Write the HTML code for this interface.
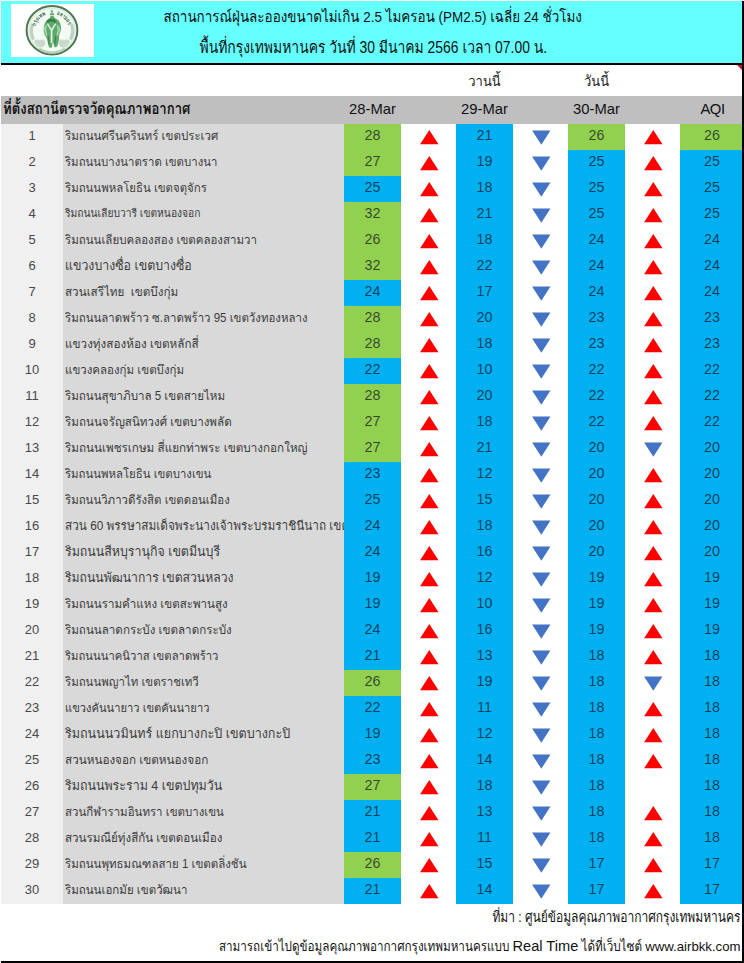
<!DOCTYPE html>
<html lang="th"><head><meta charset="utf-8"><title>PM2.5 กรุงเทพมหานคร</title>
<style>
html,body{margin:0;padding:0;background:#fff}
body{width:744px;height:963px;position:relative;overflow:hidden;font-family:"Liberation Sans","Loma","Noto Sans Thai","Tahoma","Garuda","Noto Sans CJK SC",sans-serif;color:#222}
.a{position:absolute;white-space:nowrap;overflow:hidden}
.t{position:absolute;white-space:pre;line-height:26px;height:26px}
.c{text-align:center}
.n{font-size:13px;color:#484848}
.nm{font-size:11.5px;color:#3c3c3c;letter-spacing:0px}
.nm span{display:inline-block;transform:scaleY(1.07);transform-origin:0 17px}
.v{font-size:14.3px;color:rgba(10,15,30,0.72)}
svg{position:absolute;overflow:visible}
.L{display:inline-block;line-height:1;transform:scaleY(0.86);transform-origin:50% 83%}
</style></head><body>
<div class="a" style="left:1px;top:1px;width:741px;height:62px;background:#66ffff"></div>
<div class="a" style="left:1px;top:63px;width:743px;height:2px;background:#000"></div>
<div class="a" style="left:742px;top:1px;width:2px;height:962px;background:#000"></div>
<div class="a" style="left:1px;top:961px;width:743px;height:2px;background:#000"></div>
<svg style="left:737px;top:65px" width="5" height="5"><polygon points="0,0 5,0 5,5" fill="#c8102e"/></svg>
<div class="a" style="left:11px;top:4px;width:83px;height:53px;background:#fff"></div>
<svg style="left:0;top:0" width="100" height="62" viewBox="0 0 100 62">
<ellipse cx="52" cy="30.2" rx="25.4" ry="24.2" fill="#f3f9f3" stroke="#4a7852" stroke-width="2"/>
<ellipse cx="52" cy="30.2" rx="23.2" ry="22" fill="none" stroke="#dcebdd" stroke-width="1.6"/>
<path d="M32.6 24 A20.2 19.4 0 0 0 33.6 39.5" fill="none" stroke="#c3cfc4" stroke-width="3.2"/>
<path d="M71.4 24 A20.2 19.4 0 0 1 70.4 39.5" fill="none" stroke="#c3cfc4" stroke-width="3.2"/>
<path d="M34 41 q3 -2.5 6 -0.5 q2.5 -2 5 0.5 q1 3 -1 5 q-2 2.5 -5 1 q-3.5 -1 -5 -6z" fill="#c9d9cb"/>
<path d="M70 41 q-3 -2.5 -6 -0.5 q-2.5 -2 -5 0.5 q-1 3 1 5 q2 2.5 5 1 q3.500 -1 5 -6z" fill="#c9d9cb"/>
<path d="M39 48.5 q6 4.200 13 4.200 q7 0 13 -4.200" fill="none" stroke="#b7cdb9" stroke-width="2.2"/>
<path d="M50.400 8.600 l1.100 2.300 l1 -1.700 l0.300 3.200 l1.600 1.800 l-1.200 1.600 l1.700 2.100 q3.600 1.400 5.200 5.200 q1.700 4.500 0.400 9 l-1.600 4 q0.700 3.600 -0.600 6.600 l-1.100 3.600 q-1.500 1.600 -3.200 0.200 l-0.500 -3.600 l-1 0 l-0.600 4.300 q-1.600 1.300 -3.100 -0.100 l-0.900 -4 l-1.200 -5.200 q-2 -2.600 -2.700 -6.200 q-1 -4.600 0.900 -8.600 q1.700 -3.600 4.800 -5 l1.100 -2.300 l-1.100 -1.600 l1.300 -2.200z" fill="#5fa86c"/>
<path d="M46.500 21.500 q1.500 -2.500 4.800 -2.800 q3.600 0.200 5.300 3 l-1.800 1.300 q-1.600 -1.700 -3.500 -1.700 q-2 0 -3.400 1.600z" fill="#2f7d41"/>
<path d="M48 23.200 l3.500 5.800 l3.600 -5.800 l1.200 0.700 l-3.900 6.600 l0.100 12.500 l-1.800 0 l0.100 -12.500 l-4 -6.600z" fill="#e4f3e5"/>
<path d="M44.600 27 q-1.400 4 0.200 8 M59 27 q1.400 4 -0.200 8" fill="none" stroke="#9fd0a6" stroke-width="1.100"/>
<path d="M48.200 36 l0.900 8.500 M55.800 36 l-0.900 8.500" fill="none" stroke="#2f7d41" stroke-width="0.900"/>
<path d="M46.200 25 q-1.600 5 0.600 10.500 M57.600 25 q1.600 5 -0.600 10.500 M49.500 15.500 l4 0 M50 13 l2.500 0" fill="none" stroke="#d9efdc" stroke-width="0.900"/>
<path id="lgarc1" d="M35.600 26.400 A17 16.200 0 0 1 47.400 14.600" fill="none"/>
<path id="lgarc2" d="M56.600 14.600 A17 16.200 0 0 1 68.400 26.400" fill="none"/>
<text font-size="6.2" font-weight="bold" fill="#2a6438" font-family="'Liberation Sans','Loma','Noto Sans Thai',sans-serif"><textPath href="#lgarc1" startOffset="0" textLength="16" lengthAdjust="spacingAndGlyphs">กรุงเทพ</textPath></text>
<text font-size="6.2" font-weight="bold" fill="#2a6438" font-family="'Liberation Sans','Loma','Noto Sans Thai',sans-serif"><textPath href="#lgarc2" startOffset="0" textLength="16" lengthAdjust="spacingAndGlyphs">มหานคร</textPath></text>
</svg>

<div class="t" style="top:5px;font-size:13.46px;color:#111;left:163.5px;transform:scaleY(1.15);transform-origin:50% 70%;">สถานการณ์ฝุ่นละอองขนาดไม่เกิน 2.5 ไมครอน (PM2.5) เฉลี่ย 24 ชั่วโมง</div>
<div class="t" style="top:35px;font-size:13.9px;color:#111;left:199.5px;transform:scaleY(1.2);transform-origin:50% 70%;">พื้นที่กรุงเทพมหานคร วันที่ 30 มีนาคม 2566 เวลา 07.00 น.</div>
<div class="t c" style="top:69px;font-size:13px;color:#222;left:456px;width:57px;transform:scaleY(1.1);transform-origin:50% 70%;">วานนี้</div>
<div class="t c" style="top:69px;font-size:13px;color:#222;left:568px;width:57px;transform:scaleY(1.1);transform-origin:50% 70%;">วันนี้</div>
<div class="a" style="left:1px;top:96px;width:741px;height:28px;background:#bfbfbf"></div>
<div class="t" style="top:97px;font-size:13.17px;color:#111;left:3px;font-weight:bold;transform:scaleY(1.19);transform-origin:50% 70%;">ที่ตั้งสถานีตรวจวัดคุณภาพอากาศ</div>
<div class="t c" style="top:96px;font-size:14.8px;color:#111;left:344px;width:57px;">28-Mar</div>
<div class="t c" style="top:96px;font-size:14.8px;color:#111;left:456px;width:57px;">29-Mar</div>
<div class="t c" style="top:96px;font-size:14.8px;color:#111;left:568px;width:57px;">30-Mar</div>
<div class="t c" style="top:96px;font-size:14.8px;color:#111;left:681.5px;width:62px;letter-spacing:-0.5px;">AQI</div>
<div class="a" style="left:1px;top:124px;width:62px;height:780px;background:#f0f0f0"></div>
<div class="a" style="left:63px;top:124px;width:281px;height:780px;background:#d9d9d9"></div>
<div class="a" style="left:344px;top:124px;width:57px;height:780px;background:#00b0f0"></div>
<div class="a" style="left:456px;top:124px;width:57px;height:780px;background:#00b0f0"></div>
<div class="a" style="left:568px;top:124px;width:57px;height:780px;background:#00b0f0"></div>
<div class="a" style="left:680px;top:124px;width:62px;height:780px;background:#00b0f0"></div>
<div class="a" style="left:344px;top:124px;width:57px;height:26px;background:#92d050"></div>
<div class="a" style="left:568px;top:124px;width:57px;height:26px;background:#92d050"></div>
<div class="a" style="left:680px;top:124px;width:62px;height:26px;background:#92d050"></div>
<div class="a" style="left:344px;top:150px;width:57px;height:26px;background:#92d050"></div>
<div class="a" style="left:344px;top:202px;width:57px;height:26px;background:#92d050"></div>
<div class="a" style="left:344px;top:228px;width:57px;height:26px;background:#92d050"></div>
<div class="a" style="left:344px;top:254px;width:57px;height:26px;background:#92d050"></div>
<div class="a" style="left:344px;top:306px;width:57px;height:26px;background:#92d050"></div>
<div class="a" style="left:344px;top:332px;width:57px;height:26px;background:#92d050"></div>
<div class="a" style="left:344px;top:384px;width:57px;height:26px;background:#92d050"></div>
<div class="a" style="left:344px;top:410px;width:57px;height:26px;background:#92d050"></div>
<div class="a" style="left:344px;top:436px;width:57px;height:26px;background:#92d050"></div>
<div class="a" style="left:344px;top:670px;width:57px;height:26px;background:#92d050"></div>
<div class="a" style="left:344px;top:774px;width:57px;height:26px;background:#92d050"></div>
<div class="a" style="left:344px;top:852px;width:57px;height:26px;background:#92d050"></div>
<div class="t c n" style="left:1px;width:62px;top:123px">1</div>
<div class="t nm" style="left:65px;width:279px;top:123px;overflow:hidden;font-size:11.53px"><span id="nm1">ริมถนนศรีนครินทร์ เขตประเวศ</span></div>
<div class="t c v" style="left:344px;width:57px;top:122px">28</div>
<div class="t c v" style="left:456px;width:57px;top:122px">21</div>
<div class="t c v" style="left:568px;width:57px;top:122px">26</div>
<div class="t c v" style="left:681px;width:62px;top:122px">26</div>
<div class="t c n" style="left:1px;width:62px;top:149px">2</div>
<div class="t nm" style="left:65px;width:279px;top:149px;overflow:hidden;font-size:11.40px"><span id="nm2">ริมถนนบางนาตราด เขตบางนา</span></div>
<div class="t c v" style="left:344px;width:57px;top:148px">27</div>
<div class="t c v" style="left:456px;width:57px;top:148px">19</div>
<div class="t c v" style="left:568px;width:57px;top:148px">25</div>
<div class="t c v" style="left:681px;width:62px;top:148px">25</div>
<div class="t c n" style="left:1px;width:62px;top:175px">3</div>
<div class="t nm" style="left:65px;width:279px;top:175px;overflow:hidden;font-size:11.41px"><span id="nm3">ริมถนนพหลโยธิน เขตจตุจักร</span></div>
<div class="t c v" style="left:344px;width:57px;top:174px">25</div>
<div class="t c v" style="left:456px;width:57px;top:174px">18</div>
<div class="t c v" style="left:568px;width:57px;top:174px">25</div>
<div class="t c v" style="left:681px;width:62px;top:174px">25</div>
<div class="t c n" style="left:1px;width:62px;top:201px">4</div>
<div class="t nm" style="left:65px;width:279px;top:201px;overflow:hidden;font-size:10.29px"><span id="nm4">ริมถนนเลียบวารี เขตหนองจอก</span></div>
<div class="t c v" style="left:344px;width:57px;top:200px">32</div>
<div class="t c v" style="left:456px;width:57px;top:200px">21</div>
<div class="t c v" style="left:568px;width:57px;top:200px">25</div>
<div class="t c v" style="left:681px;width:62px;top:200px">25</div>
<div class="t c n" style="left:1px;width:62px;top:227px">5</div>
<div class="t nm" style="left:65px;width:279px;top:227px;overflow:hidden;font-size:11.51px"><span id="nm5">ริมถนนเลียบคลองสอง เขตคลองสามวา</span></div>
<div class="t c v" style="left:344px;width:57px;top:226px">26</div>
<div class="t c v" style="left:456px;width:57px;top:226px">18</div>
<div class="t c v" style="left:568px;width:57px;top:226px">24</div>
<div class="t c v" style="left:681px;width:62px;top:226px">24</div>
<div class="t c n" style="left:1px;width:62px;top:253px">6</div>
<div class="t nm" style="left:65px;width:279px;top:253px;overflow:hidden;font-size:12.37px"><span id="nm6">แขวงบางซื่อ เขตบางซื่อ</span></div>
<div class="t c v" style="left:344px;width:57px;top:252px">32</div>
<div class="t c v" style="left:456px;width:57px;top:252px">22</div>
<div class="t c v" style="left:568px;width:57px;top:252px">24</div>
<div class="t c v" style="left:681px;width:62px;top:252px">24</div>
<div class="t c n" style="left:1px;width:62px;top:279px">7</div>
<div class="t nm" style="left:65px;width:279px;top:279px;overflow:hidden;font-size:11.67px"><span id="nm7">สวนเสรีไทย  เขตบึงกุ่ม</span></div>
<div class="t c v" style="left:344px;width:57px;top:278px">24</div>
<div class="t c v" style="left:456px;width:57px;top:278px">17</div>
<div class="t c v" style="left:568px;width:57px;top:278px">24</div>
<div class="t c v" style="left:681px;width:62px;top:278px">24</div>
<div class="t c n" style="left:1px;width:62px;top:305px">8</div>
<div class="t nm" style="left:65px;width:279px;top:305px;overflow:hidden;font-size:11.48px"><span id="nm8">ริมถนนลาดพร้าว ซ.ลาดพร้าว 95 เขตวังทองหลาง</span></div>
<div class="t c v" style="left:344px;width:57px;top:304px">28</div>
<div class="t c v" style="left:456px;width:57px;top:304px">20</div>
<div class="t c v" style="left:568px;width:57px;top:304px">23</div>
<div class="t c v" style="left:681px;width:62px;top:304px">23</div>
<div class="t c n" style="left:1px;width:62px;top:331px">9</div>
<div class="t nm" style="left:65px;width:279px;top:331px;overflow:hidden;font-size:11.72px"><span id="nm9">แขวงทุ่งสองห้อง เขตหลักสี่</span></div>
<div class="t c v" style="left:344px;width:57px;top:330px">28</div>
<div class="t c v" style="left:456px;width:57px;top:330px">18</div>
<div class="t c v" style="left:568px;width:57px;top:330px">23</div>
<div class="t c v" style="left:681px;width:62px;top:330px">23</div>
<div class="t c n" style="left:1px;width:62px;top:357px">10</div>
<div class="t nm" style="left:65px;width:279px;top:357px;overflow:hidden;font-size:11.51px"><span id="nm10">แขวงคลองกุ่ม เขตบึงกุ่ม</span></div>
<div class="t c v" style="left:344px;width:57px;top:356px">22</div>
<div class="t c v" style="left:456px;width:57px;top:356px">10</div>
<div class="t c v" style="left:568px;width:57px;top:356px">22</div>
<div class="t c v" style="left:681px;width:62px;top:356px">22</div>
<div class="t c n" style="left:1px;width:62px;top:383px">11</div>
<div class="t nm" style="left:65px;width:279px;top:383px;overflow:hidden;font-size:11.56px"><span id="nm11">ริมถนนสุขาภิบาล 5 เขตสายไหม</span></div>
<div class="t c v" style="left:344px;width:57px;top:382px">28</div>
<div class="t c v" style="left:456px;width:57px;top:382px">20</div>
<div class="t c v" style="left:568px;width:57px;top:382px">22</div>
<div class="t c v" style="left:681px;width:62px;top:382px">22</div>
<div class="t c n" style="left:1px;width:62px;top:409px">12</div>
<div class="t nm" style="left:65px;width:279px;top:409px;overflow:hidden;font-size:11.63px"><span id="nm12">ริมถนนจรัญสนิทวงศ์ เขตบางพลัด</span></div>
<div class="t c v" style="left:344px;width:57px;top:408px">27</div>
<div class="t c v" style="left:456px;width:57px;top:408px">18</div>
<div class="t c v" style="left:568px;width:57px;top:408px">22</div>
<div class="t c v" style="left:681px;width:62px;top:408px">22</div>
<div class="t c n" style="left:1px;width:62px;top:435px">13</div>
<div class="t nm" style="left:65px;width:279px;top:435px;overflow:hidden;font-size:11.68px"><span id="nm13">ริมถนนเพชรเกษม สี่แยกท่าพระ เขตบางกอกใหญ่</span></div>
<div class="t c v" style="left:344px;width:57px;top:434px">27</div>
<div class="t c v" style="left:456px;width:57px;top:434px">21</div>
<div class="t c v" style="left:568px;width:57px;top:434px">20</div>
<div class="t c v" style="left:681px;width:62px;top:434px">20</div>
<div class="t c n" style="left:1px;width:62px;top:461px">14</div>
<div class="t nm" style="left:65px;width:279px;top:461px;overflow:hidden;font-size:11.38px"><span id="nm14">ริมถนนพหลโยธิน เขตบางเขน</span></div>
<div class="t c v" style="left:344px;width:57px;top:460px">23</div>
<div class="t c v" style="left:456px;width:57px;top:460px">12</div>
<div class="t c v" style="left:568px;width:57px;top:460px">20</div>
<div class="t c v" style="left:681px;width:62px;top:460px">20</div>
<div class="t c n" style="left:1px;width:62px;top:487px">15</div>
<div class="t nm" style="left:65px;width:279px;top:487px;overflow:hidden;font-size:11.43px"><span id="nm15">ริมถนนวิภาวดีรังสิต เขตดอนเมือง</span></div>
<div class="t c v" style="left:344px;width:57px;top:486px">25</div>
<div class="t c v" style="left:456px;width:57px;top:486px">15</div>
<div class="t c v" style="left:568px;width:57px;top:486px">20</div>
<div class="t c v" style="left:681px;width:62px;top:486px">20</div>
<div class="t c n" style="left:1px;width:62px;top:513px">16</div>
<div class="t nm" style="left:65px;width:279px;top:513px;overflow:hidden;font-size:11.79px"><span id="nm16">สวน 60 พรรษาสมเด็จพระนางเจ้าพระบรมราชินีนาถ เขตลาดกระบัง</span></div>
<div class="t c v" style="left:344px;width:57px;top:512px">24</div>
<div class="t c v" style="left:456px;width:57px;top:512px">18</div>
<div class="t c v" style="left:568px;width:57px;top:512px">20</div>
<div class="t c v" style="left:681px;width:62px;top:512px">20</div>
<div class="t c n" style="left:1px;width:62px;top:539px">17</div>
<div class="t nm" style="left:65px;width:279px;top:539px;overflow:hidden;font-size:12.40px"><span id="nm17">ริมถนนสีหบุรานุกิจ เขตมีนบุรี</span></div>
<div class="t c v" style="left:344px;width:57px;top:538px">24</div>
<div class="t c v" style="left:456px;width:57px;top:538px">16</div>
<div class="t c v" style="left:568px;width:57px;top:538px">20</div>
<div class="t c v" style="left:681px;width:62px;top:538px">20</div>
<div class="t c n" style="left:1px;width:62px;top:565px">18</div>
<div class="t nm" style="left:65px;width:279px;top:565px;overflow:hidden;font-size:12.21px"><span id="nm18">ริมถนนพัฒนาการ เขตสวนหลวง</span></div>
<div class="t c v" style="left:344px;width:57px;top:564px">19</div>
<div class="t c v" style="left:456px;width:57px;top:564px">12</div>
<div class="t c v" style="left:568px;width:57px;top:564px">19</div>
<div class="t c v" style="left:681px;width:62px;top:564px">19</div>
<div class="t c n" style="left:1px;width:62px;top:591px">19</div>
<div class="t nm" style="left:65px;width:279px;top:591px;overflow:hidden;font-size:11.59px"><span id="nm19">ริมถนนรามคำแหง เขตสะพานสูง</span></div>
<div class="t c v" style="left:344px;width:57px;top:590px">19</div>
<div class="t c v" style="left:456px;width:57px;top:590px">10</div>
<div class="t c v" style="left:568px;width:57px;top:590px">19</div>
<div class="t c v" style="left:681px;width:62px;top:590px">19</div>
<div class="t c n" style="left:1px;width:62px;top:617px">20</div>
<div class="t nm" style="left:65px;width:279px;top:617px;overflow:hidden;font-size:11.60px"><span id="nm20">ริมถนนลาดกระบัง เขตลาดกระบัง</span></div>
<div class="t c v" style="left:344px;width:57px;top:616px">24</div>
<div class="t c v" style="left:456px;width:57px;top:616px">16</div>
<div class="t c v" style="left:568px;width:57px;top:616px">19</div>
<div class="t c v" style="left:681px;width:62px;top:616px">19</div>
<div class="t c n" style="left:1px;width:62px;top:643px">21</div>
<div class="t nm" style="left:65px;width:279px;top:643px;overflow:hidden;font-size:11.29px"><span id="nm21">ริมถนนนาคนิวาส เขตลาดพร้าว</span></div>
<div class="t c v" style="left:344px;width:57px;top:642px">21</div>
<div class="t c v" style="left:456px;width:57px;top:642px">13</div>
<div class="t c v" style="left:568px;width:57px;top:642px">18</div>
<div class="t c v" style="left:681px;width:62px;top:642px">18</div>
<div class="t c n" style="left:1px;width:62px;top:669px">22</div>
<div class="t nm" style="left:65px;width:279px;top:669px;overflow:hidden;font-size:11.45px"><span id="nm22">ริมถนนพญาไท เขตราชเทวี</span></div>
<div class="t c v" style="left:344px;width:57px;top:668px">26</div>
<div class="t c v" style="left:456px;width:57px;top:668px">19</div>
<div class="t c v" style="left:568px;width:57px;top:668px">18</div>
<div class="t c v" style="left:681px;width:62px;top:668px">18</div>
<div class="t c n" style="left:1px;width:62px;top:695px">23</div>
<div class="t nm" style="left:65px;width:279px;top:695px;overflow:hidden;font-size:11.17px"><span id="nm23">แขวงคันนายาว เขตคันนายาว</span></div>
<div class="t c v" style="left:344px;width:57px;top:694px">22</div>
<div class="t c v" style="left:456px;width:57px;top:694px">11</div>
<div class="t c v" style="left:568px;width:57px;top:694px">18</div>
<div class="t c v" style="left:681px;width:62px;top:694px">18</div>
<div class="t c n" style="left:1px;width:62px;top:721px">24</div>
<div class="t nm" style="left:65px;width:279px;top:721px;overflow:hidden;font-size:12.56px"><span id="nm24">ริมถนนนวมินทร์ แยกบางกะปิ เขตบางกะปิ</span></div>
<div class="t c v" style="left:344px;width:57px;top:720px">19</div>
<div class="t c v" style="left:456px;width:57px;top:720px">12</div>
<div class="t c v" style="left:568px;width:57px;top:720px">18</div>
<div class="t c v" style="left:681px;width:62px;top:720px">18</div>
<div class="t c n" style="left:1px;width:62px;top:747px">25</div>
<div class="t nm" style="left:65px;width:279px;top:747px;overflow:hidden;font-size:11.70px"><span id="nm25">สวนหนองจอก เขตหนองจอก</span></div>
<div class="t c v" style="left:344px;width:57px;top:746px">23</div>
<div class="t c v" style="left:456px;width:57px;top:746px">14</div>
<div class="t c v" style="left:568px;width:57px;top:746px">18</div>
<div class="t c v" style="left:681px;width:62px;top:746px">18</div>
<div class="t c n" style="left:1px;width:62px;top:773px">26</div>
<div class="t nm" style="left:65px;width:279px;top:773px;overflow:hidden;font-size:12.44px"><span id="nm26">ริมถนนพระราม 4 เขตปทุมวัน</span></div>
<div class="t c v" style="left:344px;width:57px;top:772px">27</div>
<div class="t c v" style="left:456px;width:57px;top:772px">18</div>
<div class="t c v" style="left:568px;width:57px;top:772px">18</div>
<div class="t c v" style="left:681px;width:62px;top:772px">18</div>
<div class="t c n" style="left:1px;width:62px;top:799px">27</div>
<div class="t nm" style="left:65px;width:279px;top:799px;overflow:hidden;font-size:11.48px"><span id="nm27">สวนกีฬารามอินทรา เขตบางเขน</span></div>
<div class="t c v" style="left:344px;width:57px;top:798px">21</div>
<div class="t c v" style="left:456px;width:57px;top:798px">13</div>
<div class="t c v" style="left:568px;width:57px;top:798px">18</div>
<div class="t c v" style="left:681px;width:62px;top:798px">18</div>
<div class="t c n" style="left:1px;width:62px;top:825px">28</div>
<div class="t nm" style="left:65px;width:279px;top:825px;overflow:hidden;font-size:11.58px"><span id="nm28">สวนรมณีย์ทุ่งสีกัน เขตดอนเมือง</span></div>
<div class="t c v" style="left:344px;width:57px;top:824px">21</div>
<div class="t c v" style="left:456px;width:57px;top:824px">11</div>
<div class="t c v" style="left:568px;width:57px;top:824px">18</div>
<div class="t c v" style="left:681px;width:62px;top:824px">18</div>
<div class="t c n" style="left:1px;width:62px;top:851px">29</div>
<div class="t nm" style="left:65px;width:279px;top:851px;overflow:hidden;font-size:11.50px"><span id="nm29">ริมถนนพุทธมณฑลสาย 1 เขตตลิ่งชัน</span></div>
<div class="t c v" style="left:344px;width:57px;top:850px">26</div>
<div class="t c v" style="left:456px;width:57px;top:850px">15</div>
<div class="t c v" style="left:568px;width:57px;top:850px">17</div>
<div class="t c v" style="left:681px;width:62px;top:850px">17</div>
<div class="t c n" style="left:1px;width:62px;top:877px">30</div>
<div class="t nm" style="left:65px;width:279px;top:877px;overflow:hidden;font-size:11.52px"><span id="nm30">ริมถนนเอกมัย เขตวัฒนา</span></div>
<div class="t c v" style="left:344px;width:57px;top:876px">21</div>
<div class="t c v" style="left:456px;width:57px;top:876px">14</div>
<div class="t c v" style="left:568px;width:57px;top:876px">17</div>
<div class="t c v" style="left:681px;width:62px;top:876px">17</div>
<svg style="left:0;top:0" width="744" height="963"><polygon points="429.3,130 420.1,144.3 438.5,144.3" fill="#ff0000"/><polygon points="532.0999999999999,130.5 550.5,130.5 541.3,144.8" fill="#4472c4"/><polygon points="653.3,130 644.0999999999999,144.3 662.5,144.3" fill="#ff0000"/><polygon points="429.3,156 420.1,170.3 438.5,170.3" fill="#ff0000"/><polygon points="532.0999999999999,156.5 550.5,156.5 541.3,170.8" fill="#4472c4"/><polygon points="653.3,156 644.0999999999999,170.3 662.5,170.3" fill="#ff0000"/><polygon points="429.3,182 420.1,196.3 438.5,196.3" fill="#ff0000"/><polygon points="532.0999999999999,182.5 550.5,182.5 541.3,196.8" fill="#4472c4"/><polygon points="653.3,182 644.0999999999999,196.3 662.5,196.3" fill="#ff0000"/><polygon points="429.3,208 420.1,222.3 438.5,222.3" fill="#ff0000"/><polygon points="532.0999999999999,208.5 550.5,208.5 541.3,222.8" fill="#4472c4"/><polygon points="653.3,208 644.0999999999999,222.3 662.5,222.3" fill="#ff0000"/><polygon points="429.3,234 420.1,248.3 438.5,248.3" fill="#ff0000"/><polygon points="532.0999999999999,234.5 550.5,234.5 541.3,248.8" fill="#4472c4"/><polygon points="653.3,234 644.0999999999999,248.3 662.5,248.3" fill="#ff0000"/><polygon points="429.3,260 420.1,274.3 438.5,274.3" fill="#ff0000"/><polygon points="532.0999999999999,260.5 550.5,260.5 541.3,274.8" fill="#4472c4"/><polygon points="653.3,260 644.0999999999999,274.3 662.5,274.3" fill="#ff0000"/><polygon points="429.3,286 420.1,300.3 438.5,300.3" fill="#ff0000"/><polygon points="532.0999999999999,286.5 550.5,286.5 541.3,300.8" fill="#4472c4"/><polygon points="653.3,286 644.0999999999999,300.3 662.5,300.3" fill="#ff0000"/><polygon points="429.3,312 420.1,326.3 438.5,326.3" fill="#ff0000"/><polygon points="532.0999999999999,312.5 550.5,312.5 541.3,326.8" fill="#4472c4"/><polygon points="653.3,312 644.0999999999999,326.3 662.5,326.3" fill="#ff0000"/><polygon points="429.3,338 420.1,352.3 438.5,352.3" fill="#ff0000"/><polygon points="532.0999999999999,338.5 550.5,338.5 541.3,352.8" fill="#4472c4"/><polygon points="653.3,338 644.0999999999999,352.3 662.5,352.3" fill="#ff0000"/><polygon points="429.3,364 420.1,378.3 438.5,378.3" fill="#ff0000"/><polygon points="532.0999999999999,364.5 550.5,364.5 541.3,378.8" fill="#4472c4"/><polygon points="653.3,364 644.0999999999999,378.3 662.5,378.3" fill="#ff0000"/><polygon points="429.3,390 420.1,404.3 438.5,404.3" fill="#ff0000"/><polygon points="532.0999999999999,390.5 550.5,390.5 541.3,404.8" fill="#4472c4"/><polygon points="653.3,390 644.0999999999999,404.3 662.5,404.3" fill="#ff0000"/><polygon points="429.3,416 420.1,430.3 438.5,430.3" fill="#ff0000"/><polygon points="532.0999999999999,416.5 550.5,416.5 541.3,430.8" fill="#4472c4"/><polygon points="653.3,416 644.0999999999999,430.3 662.5,430.3" fill="#ff0000"/><polygon points="429.3,442 420.1,456.3 438.5,456.3" fill="#ff0000"/><polygon points="532.0999999999999,442.5 550.5,442.5 541.3,456.8" fill="#4472c4"/><polygon points="644.0999999999999,442.5 662.5,442.5 653.3,456.8" fill="#4472c4"/><polygon points="429.3,468 420.1,482.3 438.5,482.3" fill="#ff0000"/><polygon points="532.0999999999999,468.5 550.5,468.5 541.3,482.8" fill="#4472c4"/><polygon points="653.3,468 644.0999999999999,482.3 662.5,482.3" fill="#ff0000"/><polygon points="429.3,494 420.1,508.3 438.5,508.3" fill="#ff0000"/><polygon points="532.0999999999999,494.5 550.5,494.5 541.3,508.8" fill="#4472c4"/><polygon points="653.3,494 644.0999999999999,508.3 662.5,508.3" fill="#ff0000"/><polygon points="429.3,520 420.1,534.3 438.5,534.3" fill="#ff0000"/><polygon points="532.0999999999999,520.5 550.5,520.5 541.3,534.8" fill="#4472c4"/><polygon points="653.3,520 644.0999999999999,534.3 662.5,534.3" fill="#ff0000"/><polygon points="429.3,546 420.1,560.3 438.5,560.3" fill="#ff0000"/><polygon points="532.0999999999999,546.5 550.5,546.5 541.3,560.8" fill="#4472c4"/><polygon points="653.3,546 644.0999999999999,560.3 662.5,560.3" fill="#ff0000"/><polygon points="429.3,572 420.1,586.3 438.5,586.3" fill="#ff0000"/><polygon points="532.0999999999999,572.5 550.5,572.5 541.3,586.8" fill="#4472c4"/><polygon points="653.3,572 644.0999999999999,586.3 662.5,586.3" fill="#ff0000"/><polygon points="429.3,598 420.1,612.3 438.5,612.3" fill="#ff0000"/><polygon points="532.0999999999999,598.5 550.5,598.5 541.3,612.8" fill="#4472c4"/><polygon points="653.3,598 644.0999999999999,612.3 662.5,612.3" fill="#ff0000"/><polygon points="429.3,624 420.1,638.3 438.5,638.3" fill="#ff0000"/><polygon points="532.0999999999999,624.5 550.5,624.5 541.3,638.8" fill="#4472c4"/><polygon points="653.3,624 644.0999999999999,638.3 662.5,638.3" fill="#ff0000"/><polygon points="429.3,650 420.1,664.3 438.5,664.3" fill="#ff0000"/><polygon points="532.0999999999999,650.5 550.5,650.5 541.3,664.8" fill="#4472c4"/><polygon points="653.3,650 644.0999999999999,664.3 662.5,664.3" fill="#ff0000"/><polygon points="429.3,676 420.1,690.3 438.5,690.3" fill="#ff0000"/><polygon points="532.0999999999999,676.5 550.5,676.5 541.3,690.8" fill="#4472c4"/><polygon points="644.0999999999999,676.5 662.5,676.5 653.3,690.8" fill="#4472c4"/><polygon points="429.3,702 420.1,716.3 438.5,716.3" fill="#ff0000"/><polygon points="532.0999999999999,702.5 550.5,702.5 541.3,716.8" fill="#4472c4"/><polygon points="653.3,702 644.0999999999999,716.3 662.5,716.3" fill="#ff0000"/><polygon points="429.3,728 420.1,742.3 438.5,742.3" fill="#ff0000"/><polygon points="532.0999999999999,728.5 550.5,728.5 541.3,742.8" fill="#4472c4"/><polygon points="653.3,728 644.0999999999999,742.3 662.5,742.3" fill="#ff0000"/><polygon points="429.3,754 420.1,768.3 438.5,768.3" fill="#ff0000"/><polygon points="532.0999999999999,754.5 550.5,754.5 541.3,768.8" fill="#4472c4"/><polygon points="653.3,754 644.0999999999999,768.3 662.5,768.3" fill="#ff0000"/><polygon points="429.3,780 420.1,794.3 438.5,794.3" fill="#ff0000"/><polygon points="532.0999999999999,780.5 550.5,780.5 541.3,794.8" fill="#4472c4"/><polygon points="429.3,806 420.1,820.3 438.5,820.3" fill="#ff0000"/><polygon points="532.0999999999999,806.5 550.5,806.5 541.3,820.8" fill="#4472c4"/><polygon points="653.3,806 644.0999999999999,820.3 662.5,820.3" fill="#ff0000"/><polygon points="429.3,832 420.1,846.3 438.5,846.3" fill="#ff0000"/><polygon points="532.0999999999999,832.5 550.5,832.5 541.3,846.8" fill="#4472c4"/><polygon points="653.3,832 644.0999999999999,846.3 662.5,846.3" fill="#ff0000"/><polygon points="429.3,858 420.1,872.3 438.5,872.3" fill="#ff0000"/><polygon points="532.0999999999999,858.5 550.5,858.5 541.3,872.8" fill="#4472c4"/><polygon points="653.3,858 644.0999999999999,872.3 662.5,872.3" fill="#ff0000"/><polygon points="429.3,884 420.1,898.3 438.5,898.3" fill="#ff0000"/><polygon points="532.0999999999999,884.5 550.5,884.5 541.3,898.8" fill="#4472c4"/><polygon points="653.3,884 644.0999999999999,898.3 662.5,898.3" fill="#ff0000"/></svg>
<div class="t" style="top:905px;font-size:12px;color:#111;right:3.5px;transform:scaleY(1.2);transform-origin:50% 70%;">ที่มา : ศูนย์ข้อมูลคุณภาพอากาศกรุงเทพมหานคร</div>
<div class="t" style="top:934px;font-size:11.68px;color:#111;right:3.5px;transform:scaleY(1.2);transform-origin:50% 70%;">สามารถเข้าไปดูข้อมูลคุณภาพอากาศกรุงเทพมหานครแบบ <span class="L" style="font-size:14.6px">Real Time</span> ได้ที่เว็บไซต์ <span class="L" style="font-size:13.2px">www.airbkk.com</span></div>
</body></html>
